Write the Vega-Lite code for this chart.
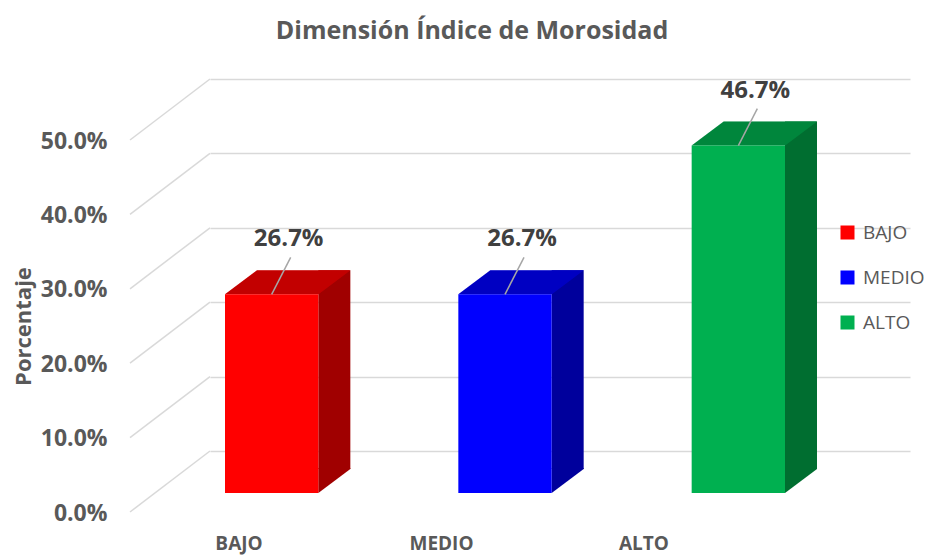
{
  "$schema": "https://vega.github.io/schema/vega-lite/v6.json",
  "width": 700,
  "height": 372,
  "autosize": {"type": "none"},
  "padding": {"left": 210, "top": 79, "right": 20, "bottom": 105},
  "background": "white",
  "config": {"view": {"stroke": null}, "font": "Open Sans"},
  "title": {
    "text": "Dimensión Índice de Morosidad",
    "font": "Open Sans",
    "fontSize": 25,
    "fontWeight": "bold",
    "color": "#595959",
    "anchor": "middle",
    "frame": "group",
    "dx": -88,
    "baseline": "alphabetic",
    "offset": 14
  },
  "datasets": {
    "bars": [
      {"cat": "BAJO", "value": 0.267},
      {"cat": "MEDIO", "value": 0.267},
      {"cat": "ALTO", "value": 0.467}
    ],
    "gridlines": [
      {"t": 0}, {"t": 0.1}, {"t": 0.2}, {"t": 0.3}, {"t": 0.4}, {"t": 0.5}
    ]
  },
  "data": {"name": "bars"},
  "resolve": {"scale": {"x": "independent"}},
  "layer": [
    {
      "encoding": {
        "x": {
          "field": "cat",
          "type": "nominal",
          "sort": ["BAJO", "MEDIO", "ALTO"],
          "scale": {"range": [0, 700], "paddingInner": 0.6, "paddingOuter": 0.3},
          "axis": null
        },
        "y": {
          "field": "value",
          "type": "quantitative",
          "scale": {"domain": [0, 0.5], "nice": false, "zero": true},
          "axis": {
            "title": "Porcentaje",
            "values": [0, 0.1, 0.2, 0.3, 0.4, 0.5],
            "format": ".1%",
            "domain": false,
            "ticks": false,
            "grid": true,
            "gridColor": "#d9d9d9",
            "gridWidth": 1.5,
            "labelFont": "Open Sans",
            "labelFontWeight": "bold",
            "labelFontSize": 23,
            "labelColor": "#595959",
            "labelPadding": 103,
            "labelOffset": 62,
            "labelFlush": false,
            "labelOverlap": false,
            "labelBound": false,
            "titleFont": "Open Sans",
            "titleFontWeight": "bold",
            "titleFontSize": 22,
            "titleColor": "#595959",
            "titleX": -187,
            "titleY": 247,
            "titleAngle": 270,
            "titleAlign": "center",
            "titleBaseline": "middle"
          }
        }
      },
      "layer": [
        {
          "data": {"name": "gridlines"},
          "mark": {"type": "rule", "color": "#d9d9d9", "strokeWidth": 1.5, "y2Offset": 61},
          "encoding": {
            "x": {"value": 0},
            "x2": {"value": -80},
            "y": {"field": "t", "type": "quantitative"},
            "y2": {"field": "t"}
          }
        },
        {
          "mark": {"type": "bar", "width": 32, "xOffset": 7.67, "yOffset": 18, "y2Offset": 18},
          "encoding": {
            "fill": {
              "field": "cat",
              "type": "nominal",
              "scale": {"domain": ["ALTO", "MEDIO", "BAJO"], "range": ["#006e30", "#00009c", "#a00000"]},
              "legend": null
            }
          }
        },
        {
          "mark": {"type": "point", "shape": "M 46.67 -25 L 46.67 0 L 78.67 -24 L 78.67 -25 Z", "size": 4, "filled": true, "strokeWidth": 0, "opacity": 1, "xOffset": -55, "yOffset": 42},
          "encoding": {
            "y": {"datum": 0, "type": "quantitative"},
            "fill": {"field": "cat", "type": "nominal", "legend": null}
          }
        },
        {
          "mark": {"type": "point", "shape": "M -46.67 0 L 46.67 0 L 78.67 -24 L -14.67 -24 Z", "size": 4, "filled": true, "strokeWidth": 0, "opacity": 1, "xOffset": -55, "yOffset": 42},
          "encoding": {
            "color": {"field": "cat", "type": "nominal"}
          }
        },
        {
          "mark": {"type": "point", "shape": "M -46.67 0 L 46.67 0 L 78.67 -24 L -14.67 -24 Z", "size": 4, "filled": true, "strokeWidth": 0, "color": "black", "opacity": 0.24, "xOffset": -55, "yOffset": 42}
        },
        {
          "mark": {"type": "bar", "xOffset": -55, "yOffset": 42, "y2Offset": 42},
          "encoding": {
            "color": {
              "field": "cat",
              "type": "nominal",
              "scale": {"domain": ["BAJO", "MEDIO", "ALTO"], "range": ["#ff0000", "#0000ff", "#00b050"]},
              "legend": {
                "orient": "none",
                "legendX": 628,
                "legendY": 144,
                "title": null,
                "symbolType": "square",
                "symbolSize": 196,
                "symbolStrokeWidth": 0,
                "symbolOpacity": 1,
                "labelFont": "Open Sans",
                "labelFontSize": 19,
                "labelColor": "#595959",
                "labelOffset": 6,
                "rowPadding": 25,
                "padding": 0
              }
            }
          }
        },
        {
          "mark": {"type": "point", "shape": "M 0 0 L 19 -37", "size": 4, "filled": false, "stroke": "#a6a6a6", "strokeWidth": 1.5, "opacity": 1, "xOffset": -55, "yOffset": 42}
        },
        {
          "mark": {"type": "text", "font": "Open Sans", "fontSize": 24, "fontWeight": "bold", "color": "#404040", "align": "center", "baseline": "middle", "xOffset": -38, "yOffset": -13},
          "encoding": {
            "text": {"field": "value", "type": "quantitative", "format": ".1%"}
          }
        }
      ]
    },
    {
      "mark": {"type": "point", "opacity": 0},
      "encoding": {
        "x": {
          "field": "cat",
          "type": "nominal",
          "sort": ["BAJO", "MEDIO", "ALTO"],
          "scale": {"type": "band", "range": [-72.25, 535.25], "paddingInner": 0, "paddingOuter": 0},
          "axis": {
            "title": null,
            "orient": "bottom",
            "domain": false,
            "ticks": false,
            "grid": false,
            "labelAngle": 0,
            "labelFont": "Open Sans",
            "labelFontWeight": "bold",
            "labelFontSize": 19,
            "labelColor": "#595959",
            "labelPadding": 98,
            "labelBaseline": "alphabetic"
          }
        }
      }
    }
  ]
}
